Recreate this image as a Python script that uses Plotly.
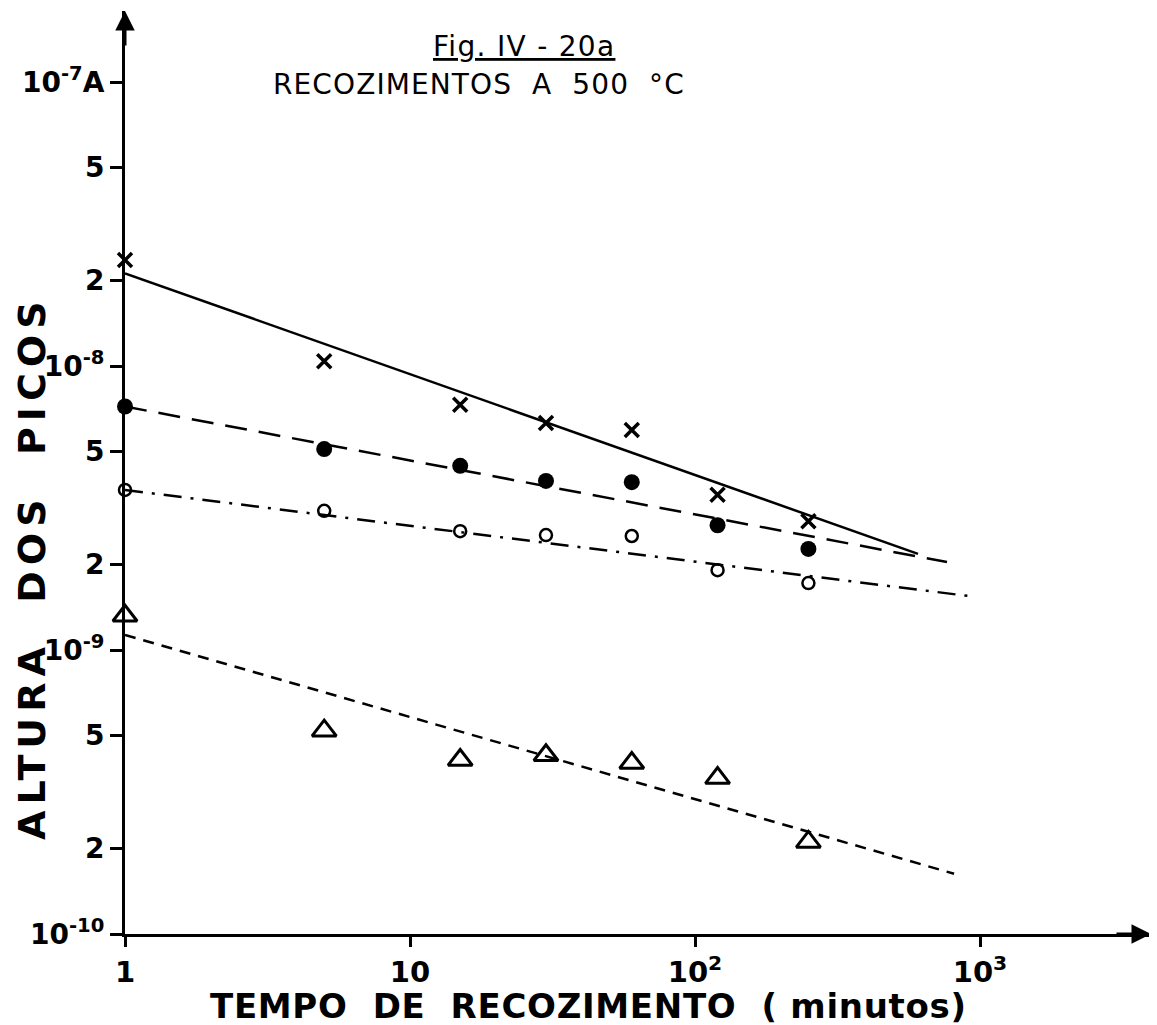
import plotly.graph_objects as go

# ---- data ----
tempo = [1, 5, 15, 30, 60, 120, 250]          # minutes
serie_x = [2.36e-8, 1.04e-8, 7.3e-9, 6.3e-9, 5.95e-9, 3.52e-9, 2.84e-9]
serie_cheio = [7.2e-9, 5.1e-9, 4.45e-9, 3.94e-9, 3.9e-9, 2.75e-9, 2.27e-9]
serie_aberto = [3.66e-9, 3.09e-9, 2.62e-9, 2.54e-9, 2.52e-9, 1.91e-9, 1.72e-9]
serie_tri = [1.32e-9, 5.2e-10, 4.1e-10, 4.26e-10, 4.0e-10, 3.54e-10, 2.11e-10]

# fitted straight lines (start / end points)
fit_x_t = [1, 606]
fit_x_v = [2.12e-8, 2.18e-9]
fit_cheio_t = [1, 766]
fit_cheio_v = [7.2e-9, 2.04e-9]
fit_aberto_t = [1, 908]
fit_aberto_v = [3.66e-9, 1.55e-9]
fit_tri_t = [1, 811]
fit_tri_v = [1.13e-9, 1.63e-10]

y_tickvals = [1e-7, 5e-8, 2e-8, 1e-8, 5e-9, 2e-9, 1e-9, 5e-10, 2e-10, 1e-10]
y_ticktext = ["10<sup>-7</sup>A", "5", "2", "10<sup>-8</sup>", "5", "2",
              "10<sup>-9</sup>", "5", "2", "10<sup>-10</sup>"]
x_tickvals = [1, 10, 100, 1000]
x_ticktext = ["1", "10", "10<sup>2</sup>", "10<sup>3</sup>"]

FONT = "DejaVu Sans, sans-serif"
K = "black"

fig = go.Figure()

# lines
fig.add_trace(go.Scatter(x=fit_x_t, y=fit_x_v, mode="lines",
                         line=dict(color=K, width=2.5), showlegend=False, cliponaxis=False))
fig.add_trace(go.Scatter(x=fit_cheio_t, y=fit_cheio_v, mode="lines",
                         line=dict(color=K, width=2.5, dash="22px,12px"), showlegend=False, cliponaxis=False))
fig.add_trace(go.Scatter(x=fit_aberto_t, y=fit_aberto_v, mode="lines",
                         line=dict(color=K, width=2.5, dash="18px,9px,3px,9px"), showlegend=False, cliponaxis=False))
fig.add_trace(go.Scatter(x=fit_tri_t, y=fit_tri_v, mode="lines",
                         line=dict(color=K, width=2.5, dash="11px,8px"), showlegend=False, cliponaxis=False))

# markers
fig.add_trace(go.Scatter(x=tempo, y=serie_x, mode="markers", showlegend=False, cliponaxis=False,
                         marker=dict(symbol="x-thin-open", size=14, color=K, line=dict(color=K, width=3.5))))
fig.add_trace(go.Scatter(x=tempo, y=serie_cheio, mode="markers", showlegend=False, cliponaxis=False,
                         marker=dict(symbol="circle", size=16, color=K, line=dict(width=0))))
fig.add_trace(go.Scatter(x=tempo, y=serie_aberto, mode="markers", showlegend=False, cliponaxis=False,
                         marker=dict(symbol="circle-open", size=12, color=K, line=dict(color=K, width=2.5))))
fig.add_trace(go.Scatter(x=tempo, y=serie_tri, mode="markers", showlegend=False, cliponaxis=False,
                         marker=dict(symbol="triangle-up-open", size=21, color=K, line=dict(color=K, width=3))))

fig.update_layout(
    width=1149, height=1017, autosize=False,
    margin=dict(l=117, r=6, t=3, b=91, pad=0),
    paper_bgcolor="white", plot_bgcolor="white",
    font=dict(family=FONT, color=K),
    xaxis=dict(type="log", range=[0, 3.6], showgrid=False, zeroline=False,
               showline=True, linecolor=K, linewidth=3,
               ticks="outside", ticklen=10, tickwidth=2.5, tickcolor=K,
               tickvals=x_tickvals, ticktext=x_ticktext,
               tickfont=dict(family=FONT, size=29, color=K, weight="bold")),
    yaxis=dict(type="log", range=[-10, -6.75], showgrid=False, zeroline=False,
               showline=True, linecolor=K, linewidth=3,
               ticks="outside", ticklen=12, tickwidth=2.5, tickcolor=K,
               tickvals=y_tickvals, ticktext=y_ticktext,
               tickfont=dict(family=FONT, size=28, color=K, weight="bold")),
)

annotations = [
    # axis arrows
    dict(xref="paper", yref="paper", x=0, y=1, ax=0, ay=36, text="", showarrow=True,
         arrowhead=2, arrowsize=1.3, arrowwidth=3, arrowcolor=K),
    dict(xref="paper", yref="paper", x=1, y=0, ax=-36, ay=0, text="", showarrow=True,
         arrowhead=2, arrowsize=1.3, arrowwidth=3, arrowcolor=K),
    # titles
    dict(xref="paper", yref="paper", x=0.389, y=0.961,
         text='<span style="letter-spacing:1.3px"><u>Fig. IV - 20a</u></span>',
         showarrow=False, xanchor="center", yanchor="middle",
         font=dict(family=FONT, size=28, color=K)),
    dict(xref="paper", yref="paper", x=0.345, y=0.92,
         text='<span style="letter-spacing:1.1px">RECOZIMENTOS  A  500  °C</span>',
         showarrow=False, xanchor="center", yanchor="middle",
         font=dict(family=FONT, size=28, color=K)),
    # axis titles
    dict(xref="paper", yref="paper", x=0.452, y=0, yshift=-72,
         text='<span style="letter-spacing:0.7px">TEMPO  DE  RECOZIMENTO  ( minutos)</span>',
         showarrow=False, xanchor="center", yanchor="middle",
         font=dict(family=FONT, size=34, color=K, weight="bold")),
    dict(xref="paper", yref="paper", x=0, xshift=-93, y=0.3966,
         text='<span style="letter-spacing:6px">ALTURA  DOS  PICOS</span>',
         textangle=-90, showarrow=False, xanchor="center", yanchor="middle",
         font=dict(family=FONT, size=38, color=K, weight="bold")),
]
fig.update_layout(annotations=annotations)

fig.write_html("out.html")
